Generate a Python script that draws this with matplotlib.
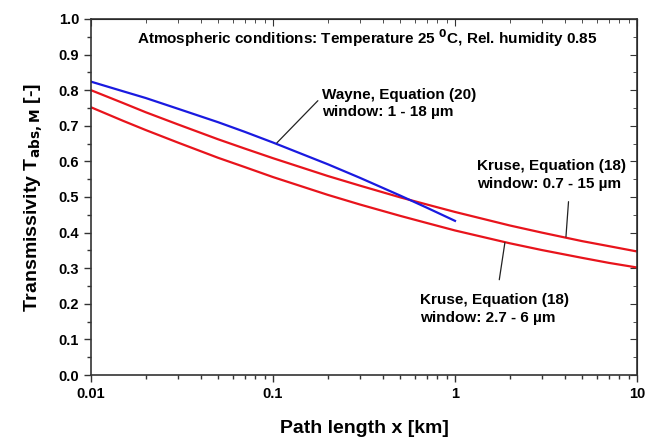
import matplotlib.pyplot as plt
from matplotlib.ticker import MultipleLocator, LogLocator, NullFormatter

plt.rcParams['font.family'] = ['Liberation Sans', 'DejaVu Sans']
plt.rcParams['font.weight'] = 'bold'

# path length [km]
x_kruse = [0.01, 0.015, 0.02, 0.03, 0.05, 0.07, 0.1, 0.2, 0.3, 0.5, 0.7, 1, 2, 3, 5, 7, 10]
t_kruse_07_15 = [0.800, 0.764, 0.738, 0.704, 0.662, 0.636, 0.609, 0.559, 0.532, 0.499, 0.479,
                 0.458, 0.420, 0.400, 0.376, 0.362, 0.347]
t_kruse_27_6 = [0.752, 0.714, 0.688, 0.653, 0.610, 0.584, 0.556, 0.506, 0.479, 0.447, 0.427,
                0.406, 0.370, 0.351, 0.329, 0.315, 0.302]

x_wayne = [0.01, 0.015, 0.02, 0.03, 0.05, 0.07, 0.1, 0.2, 0.3, 0.5, 0.7, 1]
t_wayne = [0.824, 0.797, 0.778, 0.748, 0.710, 0.683, 0.653, 0.592, 0.554, 0.504, 0.470, 0.433]

fig = plt.figure(figsize=(6.45, 4.4), dpi=100)
ax = fig.add_axes([91/645, 1 - 375/440, 546/645, 356/440])

ax.plot(x_kruse, t_kruse_07_15, color='#e8141c', lw=1.6)
ax.plot(x_kruse, t_kruse_27_6, color='#e8141c', lw=1.6)
ax.plot(x_wayne, t_wayne, color='#1a1ae0', lw=1.6)

ax.set_xscale('log')
ax.set_xlim(0.01, 10)
ax.set_ylim(0, 1.0)
ax.yaxis.set_major_locator(MultipleLocator(0.1))
ax.yaxis.set_minor_locator(MultipleLocator(0.05))
ax.set_xticks([0.01, 0.1, 1, 10])
ax.set_xticklabels(['0.01', '0.1', '1', '10'])
ax.xaxis.set_minor_locator(LogLocator(base=10, subs=range(2, 10)))
ax.xaxis.set_minor_formatter(NullFormatter())

ax.tick_params(which='both', labelsize=10.5, width=1, color='#333333')
ax.tick_params(which='major', length=5)
ax.tick_params(which='minor', length=3)
for s in ax.spines.values():
    s.set_linewidth(1.2)
    s.set_color('#333333')

# mirrored ticks on top and right, pointing inwards
top = ax.secondary_xaxis('top')
top.set_xticks([0.01, 0.1, 1, 10])
top.tick_params(which='both', direction='in', labeltop=False, color='#333333')
top.tick_params(which='major', length=5)
top.tick_params(which='minor', length=3)
top.xaxis.set_minor_locator(LogLocator(base=10, subs=range(2, 10)))
top.xaxis.set_minor_formatter(NullFormatter())
right = ax.secondary_yaxis('right')
right.yaxis.set_major_locator(MultipleLocator(0.1))
right.yaxis.set_minor_locator(MultipleLocator(0.05))
right.tick_params(which='both', direction='in', labelright=False, color='#333333')
right.tick_params(which='major', length=5)
right.tick_params(which='minor', length=3)

ax.set_xlabel('Path length x [km]', fontsize=14, fontweight='bold', labelpad=14)
ax.set_ylabel('Transmissivity T$_{\\mathbf{abs,M}}$ [-]', fontsize=14, fontweight='bold', labelpad=10)

fs = 11
ax.text(0.085, 0.945, 'Atmospheric conditions: Temperature 25 $^{\\mathbf{0}}$C, Rel. humidity 0.85',
        transform=ax.transAxes, fontsize=fs, fontweight='bold', va='center')

ax.annotate('Wayne, Equation (20)\nwindow: 1 - 18 µm', xy=(0.105, 0.652), xytext=(0.185, 0.762),
            fontsize=fs, fontweight='bold', va='center', linespacing=1.3,
            arrowprops=dict(arrowstyle='-', color='#222222', lw=0.9, shrinkA=1, shrinkB=0,
                            relpos=(0.0, 0.72)))
ax.annotate('Kruse, Equation (18)\nwindow: 0.7 - 15 µm', xy=(4.07, 0.388), xytext=(1.32, 0.562),
            fontsize=fs, fontweight='bold', va='center', linespacing=1.3,
            arrowprops=dict(arrowstyle='-', color='#222222', lw=0.9, shrinkA=6, shrinkB=0,
                            relpos=(0.62, 0.0)))
ax.annotate('Kruse, Equation (18)\nwindow: 2.7 - 6 µm', xy=(1.88, 0.372), xytext=(0.64, 0.185),
            fontsize=fs, fontweight='bold', va='center', linespacing=1.3,
            arrowprops=dict(arrowstyle='-', color='#222222', lw=0.9, shrinkA=8, shrinkB=0,
                            relpos=(0.52, 1.0)))

fig.savefig('out.png', dpi=100)
